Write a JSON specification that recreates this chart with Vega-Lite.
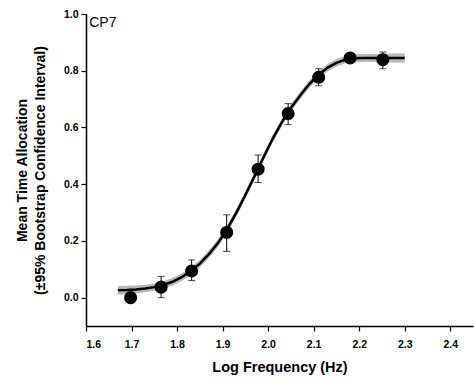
{
  "$schema": "https://vega.github.io/schema/vega-lite/v6.json",
  "width": 387,
  "height": 312,
  "autosize": {"type": "none"},
  "padding": {"left": 86, "top": 14, "right": 1, "bottom": 56},
  "background": "white",
  "config": {
    "view": {"stroke": null},
    "font": "Liberation Sans",
    "axis": {
      "grid": false,
      "domainColor": "black",
      "domainWidth": 1.5,
      "tickColor": "black",
      "tickWidth": 1.2,
      "labelColor": "black",
      "titleColor": "black",
      "labelFont": "Liberation Sans",
      "titleFont": "Liberation Sans",
      "labelFontSize": 10.5,
      "labelFontWeight": "bold",
      "titleFontSize": 14,
      "titleFontWeight": "bold"
    }
  },
  "datasets": {
    "curve": [
      {"x": 1.67, "y": 0.026, "lo": 0.010, "hi": 0.042},
      {"x": 1.69, "y": 0.027, "lo": 0.012, "hi": 0.042},
      {"x": 1.71, "y": 0.029, "lo": 0.015, "hi": 0.043},
      {"x": 1.73, "y": 0.032, "lo": 0.019, "hi": 0.045},
      {"x": 1.75, "y": 0.037, "lo": 0.024, "hi": 0.050},
      {"x": 1.77, "y": 0.045, "lo": 0.032, "hi": 0.058},
      {"x": 1.79, "y": 0.056, "lo": 0.043, "hi": 0.069},
      {"x": 1.81, "y": 0.072, "lo": 0.059, "hi": 0.085},
      {"x": 1.83, "y": 0.093, "lo": 0.080, "hi": 0.106},
      {"x": 1.85, "y": 0.120, "lo": 0.107, "hi": 0.133},
      {"x": 1.87, "y": 0.153, "lo": 0.140, "hi": 0.166},
      {"x": 1.89, "y": 0.193, "lo": 0.180, "hi": 0.206},
      {"x": 1.91, "y": 0.242, "lo": 0.229, "hi": 0.255},
      {"x": 1.93, "y": 0.299, "lo": 0.286, "hi": 0.312},
      {"x": 1.95, "y": 0.362, "lo": 0.349, "hi": 0.375},
      {"x": 1.97, "y": 0.428, "lo": 0.415, "hi": 0.441},
      {"x": 1.99, "y": 0.495, "lo": 0.482, "hi": 0.508},
      {"x": 2.01, "y": 0.560, "lo": 0.547, "hi": 0.573},
      {"x": 2.03, "y": 0.618, "lo": 0.605, "hi": 0.631},
      {"x": 2.05, "y": 0.669, "lo": 0.656, "hi": 0.682},
      {"x": 2.07, "y": 0.712, "lo": 0.699, "hi": 0.725},
      {"x": 2.09, "y": 0.752, "lo": 0.739, "hi": 0.765},
      {"x": 2.11, "y": 0.784, "lo": 0.771, "hi": 0.797},
      {"x": 2.13, "y": 0.810, "lo": 0.797, "hi": 0.823},
      {"x": 2.15, "y": 0.828, "lo": 0.815, "hi": 0.841},
      {"x": 2.17, "y": 0.839, "lo": 0.826, "hi": 0.852},
      {"x": 2.19, "y": 0.844, "lo": 0.830, "hi": 0.858},
      {"x": 2.21, "y": 0.845, "lo": 0.831, "hi": 0.859},
      {"x": 2.23, "y": 0.845, "lo": 0.831, "hi": 0.859},
      {"x": 2.25, "y": 0.845, "lo": 0.830, "hi": 0.860},
      {"x": 2.27, "y": 0.845, "lo": 0.829, "hi": 0.861},
      {"x": 2.30, "y": 0.845, "lo": 0.828, "hi": 0.862}
    ],
    "points": [
      {"x": 1.698, "y": 0.000, "lo": -0.010, "hi": 0.010},
      {"x": 1.765, "y": 0.037, "lo": 0.000, "hi": 0.075},
      {"x": 1.832, "y": 0.094, "lo": 0.060, "hi": 0.133},
      {"x": 1.909, "y": 0.230, "lo": 0.163, "hi": 0.292},
      {"x": 1.978, "y": 0.453, "lo": 0.406, "hi": 0.503},
      {"x": 2.044, "y": 0.649, "lo": 0.610, "hi": 0.684},
      {"x": 2.111, "y": 0.777, "lo": 0.747, "hi": 0.807},
      {"x": 2.180, "y": 0.845, "lo": 0.830, "hi": 0.860},
      {"x": 2.252, "y": 0.839, "lo": 0.807, "hi": 0.866}
    ],
    "label": [
      {"x": 1.607, "y": 0.97, "text": "CP7"}
    ]
  },
  "layer": [
    {
      "data": {"name": "curve"},
      "mark": {"type": "area", "color": "#b0b0b0", "opacity": 0.9},
      "encoding": {
        "x": {
          "field": "x", "type": "quantitative",
          "scale": {"domain": [1.6, 2.45], "nice": false, "zero": false},
          "axis": {
            "title": "Log Frequency (Hz)",
            "titleFontSize": 14.5,
            "values": [1.6, 1.65, 1.7, 1.75, 1.8, 1.85, 1.9, 1.95, 2.0, 2.05, 2.1, 2.15, 2.2, 2.25, 2.3, 2.35, 2.4, 2.45],
            "labelExpr": "round(datum.value*20) % 2 === 0 ? format(datum.value, '.1f') : ''",
            "tickSize": {"condition": {"test": "round(datum.value*20) % 2 === 0", "value": 5}, "value": 3},
            "labelPadding": 8,
            "titlePadding": 11
          }
        },
        "y": {
          "field": "lo", "type": "quantitative",
          "scale": {"domain": [-0.1, 1.0], "nice": false, "zero": false},
          "axis": {
            "title": ["Mean Time Allocation", "(±95% Bootstrap Confidence Interval)"],
            "values": [0, 0.1, 0.2, 0.3, 0.4, 0.5, 0.6, 0.7, 0.8, 0.9, 1.0],
            "labelExpr": "round(datum.value*10) % 2 === 0 ? format(datum.value, '.1f') : ''",
            "tickSize": {"condition": {"test": "round(datum.value*10) % 2 === 0", "value": 5}, "value": 3},
            "labelPadding": 3,
            "titlePadding": 16,
            "titleLineHeight": 18
          }
        },
        "y2": {"field": "hi"}
      }
    },
    {
      "data": {"name": "curve"},
      "mark": {"type": "line", "color": "black", "strokeWidth": 2.5},
      "encoding": {
        "x": {"field": "x", "type": "quantitative"},
        "y": {"field": "y", "type": "quantitative"}
      }
    },
    {
      "data": {"name": "points"},
      "mark": {"type": "rule", "color": "black", "strokeWidth": 1},
      "encoding": {
        "x": {"field": "x", "type": "quantitative"},
        "y": {"field": "lo", "type": "quantitative"},
        "y2": {"field": "hi"}
      }
    },
    {
      "data": {"name": "points"},
      "mark": {"type": "tick", "orient": "horizontal", "color": "black", "size": 7, "thickness": 1},
      "encoding": {
        "x": {"field": "x", "type": "quantitative"},
        "y": {"field": "lo", "type": "quantitative"}
      }
    },
    {
      "data": {"name": "points"},
      "mark": {"type": "tick", "orient": "horizontal", "color": "black", "size": 7, "thickness": 1},
      "encoding": {
        "x": {"field": "x", "type": "quantitative"},
        "y": {"field": "hi", "type": "quantitative"}
      }
    },
    {
      "data": {"name": "points"},
      "mark": {"type": "point", "shape": "circle", "filled": true, "color": "black", "opacity": 1, "size": 170},
      "encoding": {
        "x": {"field": "x", "type": "quantitative"},
        "y": {"field": "y", "type": "quantitative"}
      }
    },
    {
      "data": {"name": "label"},
      "mark": {"type": "text", "align": "left", "baseline": "middle", "fontSize": 14, "font": "Liberation Sans", "color": "black"},
      "encoding": {
        "x": {"field": "x", "type": "quantitative"},
        "y": {"field": "y", "type": "quantitative"},
        "text": {"field": "text"}
      }
    }
  ]
}
